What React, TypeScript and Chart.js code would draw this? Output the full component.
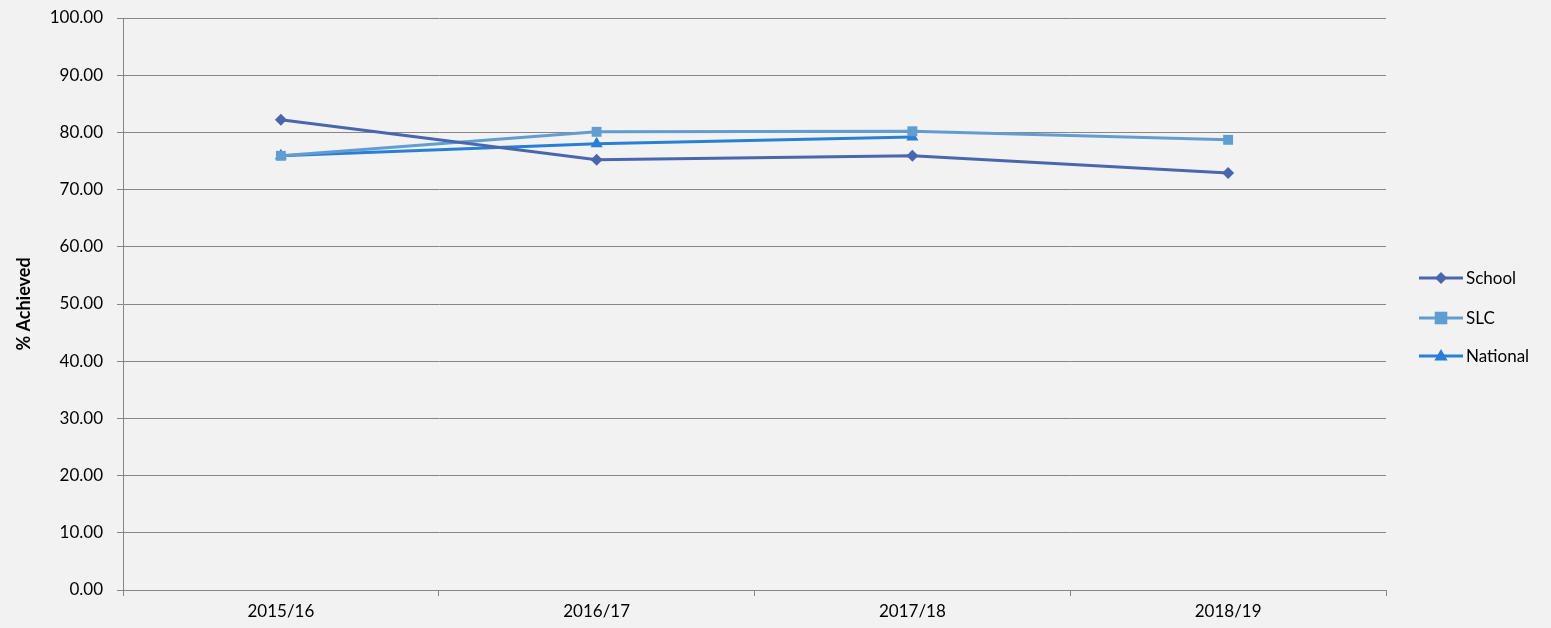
import React, { useEffect, useRef } from "react";
import { Chart, registerables } from "chart.js";

Chart.register(...registerables);

const categories = ["2015/16", "2016/17", "2017/18", "2018/19"];
const schoolValues = [82.2, 75.2, 75.9, 72.9];
const slcValues = [75.9, 80.1, 80.2, 78.7];
const nationalValues = [75.9, 78.0, 79.2, null];
const yTicks = [0, 10, 20, 30, 40, 50, 60, 70, 80, 90, 100];
const seriesNames = ["School", "SLC", "National"];
const seriesColors = ["#4a66ac", "#629dd1", "#297fd5"];
const seriesShapes = ["rectRot", "rect", "triangle"];

const FONT = "Lato, 'Open Sans', sans-serif";
const FS = 18;

export default function App() {
  const ref = useRef<HTMLCanvasElement | null>(null);

  useEffect(() => {
    if (!ref.current) return;
    const legendPlugin = {
      id: "customLegend",
      afterDraw(chart: any) {
        const ctx = chart.ctx;
        const ys = [278, 318, 356];
        const x0 = 1419;
        const x1 = 1463;
        ctx.save();
        chart.data.datasets.forEach((ds: any, i: number) => {
          const y = ys[i];
          ctx.strokeStyle = ds.borderColor;
          ctx.lineWidth = 3;
          ctx.beginPath();
          ctx.moveTo(x0, y);
          ctx.lineTo(x1, y);
          ctx.stroke();
          ctx.fillStyle = ds.borderColor;
          const r = ds.pointRadius;
          const style = ds.pointStyle;
          ctx.beginPath();
          const cx = (x0 + x1) / 2;
          if (style === "rectRot") {
            ctx.moveTo(cx, y - r);
            ctx.lineTo(cx + r, y);
            ctx.lineTo(cx, y + r);
            ctx.lineTo(cx - r, y);
          } else if (style === "rect") {
            const s = r * 0.9;
            ctx.rect(cx - s, y - s, 2 * s, 2 * s);
          } else {
            ctx.moveTo(cx, y - r);
            ctx.lineTo(cx + r * 0.95, y + r * 0.65);
            ctx.lineTo(cx - r * 0.95, y + r * 0.65);
          }
          ctx.closePath();
          ctx.fill();
          ctx.fillStyle = "#000000";
          ctx.font = `${FS - 1}px ${FONT}`;
          ctx.textBaseline = "middle";
          ctx.textAlign = "left";
          ctx.fillText(ds.label, x1 + 3, y + 1);
        });
        ctx.restore();
      },
    };

    const datasets = [schoolValues, slcValues, nationalValues].map((vals, i) => ({
      label: seriesNames[i],
      data: vals,
      borderColor: seriesColors[i],
      backgroundColor: seriesColors[i],
      borderWidth: 3,
      pointStyle: seriesShapes[i],
      pointRadius: i === 0 ? 6 : 7,
      pointBorderWidth: 0,
      pointBackgroundColor: seriesColors[i],
      tension: 0,
      spanGaps: false,
    }));

    const chart = new Chart(ref.current, {
      type: "line",
      data: { labels: categories, datasets },
      plugins: [legendPlugin],
      options: {
        animation: false,
        responsive: false,
        maintainAspectRatio: false,
        layout: { padding: { top: 18, right: 165, left: 0, bottom: 0 } },
        plugins: {
          legend: { display: false },
          tooltip: { enabled: false },
        },
        scales: {
          x: {
            type: "category",
            offset: true,
            grid: {
              offset: true,
              drawOnChartArea: false,
              drawTicks: true,
              tickLength: 6,
              color: "#868686",
            },
            border: { display: true, color: "#868686" },
            ticks: {
              color: "#000000",
              font: { family: FONT, size: FS - 1 },
              padding: 5,
              maxRotation: 0,
            },
            afterFit: (scale: any) => {
              scale.height = 38;
              scale.paddingLeft = 0;
              scale.paddingRight = 0;
            },
          },
          y: {
            min: 0,
            max: 100,
            afterBuildTicks: (scale: any) => {
              scale.ticks = yTicks.map((v) => ({ value: v }));
            },
            grid: {
              color: "#868686",
              lineWidth: 1,
              drawTicks: true,
              tickLength: 6,
            },
            border: { display: true, color: "#868686" },
            ticks: {
              color: "#000000",
              font: { family: FONT, size: FS - 1 },
              padding: 14,
              callback: (v: any) => Number(v).toFixed(2),
            },
            title: {
              display: true,
              text: "% Achieved",
              color: "#000000",
              font: { family: FONT, size: FS, weight: "bold" },
              padding: { top: 13, bottom: 0 },
            },
            afterFit: (scale: any) => {
              scale.width = 123;
              scale.paddingTop = 0;
              scale.paddingBottom = 0;
            },
          },
        },
      },
    } as any);

    return () => chart.destroy();
  }, []);

  return (
    <div
      style={{
        position: "fixed",
        left: 0,
        top: 0,
        width: 1551,
        height: 628,
        background: "#f2f2f2",
      }}
    >
      <canvas ref={ref} width={1551} height={628} style={{ display: "block" }} />
    </div>
  );
}
